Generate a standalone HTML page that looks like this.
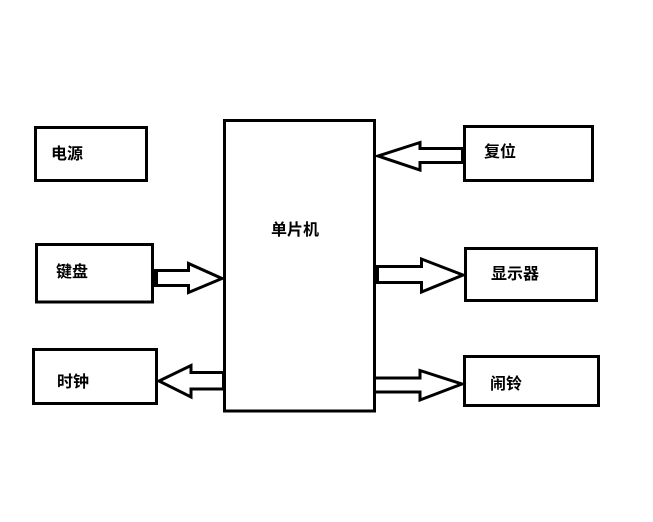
<!DOCTYPE html>
<html><head><meta charset="utf-8">
<style>html,body{margin:0;padding:0;background:#fff;width:653px;height:522px;overflow:hidden}svg{display:block}
text{font-family:"Liberation Sans","Noto Sans CJK SC",sans-serif;font-size:16px;font-weight:700;fill:#000}</style>
</head><body>
<svg width="653" height="522" viewBox="0 0 653 522" xmlns="http://www.w3.org/2000/svg">
<rect width="653" height="522" fill="#fff"/>
<g fill="none" stroke="#000" stroke-width="3">
<rect x="35.500" y="127.500" width="111" height="53"/>
<rect x="36.500" y="244.500" width="116" height="57.500"/>
<rect x="33.500" y="349.500" width="123" height="54"/>
<rect x="224.500" y="120.500" width="150" height="290.500"/>
<rect x="464.500" y="126.500" width="128" height="54"/>
<rect x="465.500" y="248.500" width="131" height="52"/>
<rect x="464.500" y="356.500" width="134" height="49"/>
<path d="M154 270.500H188.500V263.500L222 278.500L188.500 292.500V285.500H154"/>
<path d="M224 372.500H191V365.500L159 381L191 397V389H224"/>
<path d="M463 148.500H420V142.500L378 156L420 170V162.500H463"/>
<path d="M376 266.500H421.500V259L463 275L421.500 292V282.500H376"/>
<path d="M376 378H420V370.500L462 384L420 400V392H376"/>
</g>
<rect x="154" y="270" width="4" height="16" fill="#000"/>
<rect x="222" y="372" width="3" height="18" fill="#000"/>
<rect x="461" y="148" width="4" height="15" fill="#000"/>
<rect x="375" y="266" width="4" height="18" fill="#000"/>
<text x="51" y="159">电源</text>
<text x="56" y="277">键盘</text>
<text x="57" y="387">时钟</text>
<text x="271" y="235">单片机</text>
<text x="484" y="157">复位</text>
<text x="491" y="279">显示器</text>
<text x="490" y="389">闹铃</text>
</svg>
</body></html>
